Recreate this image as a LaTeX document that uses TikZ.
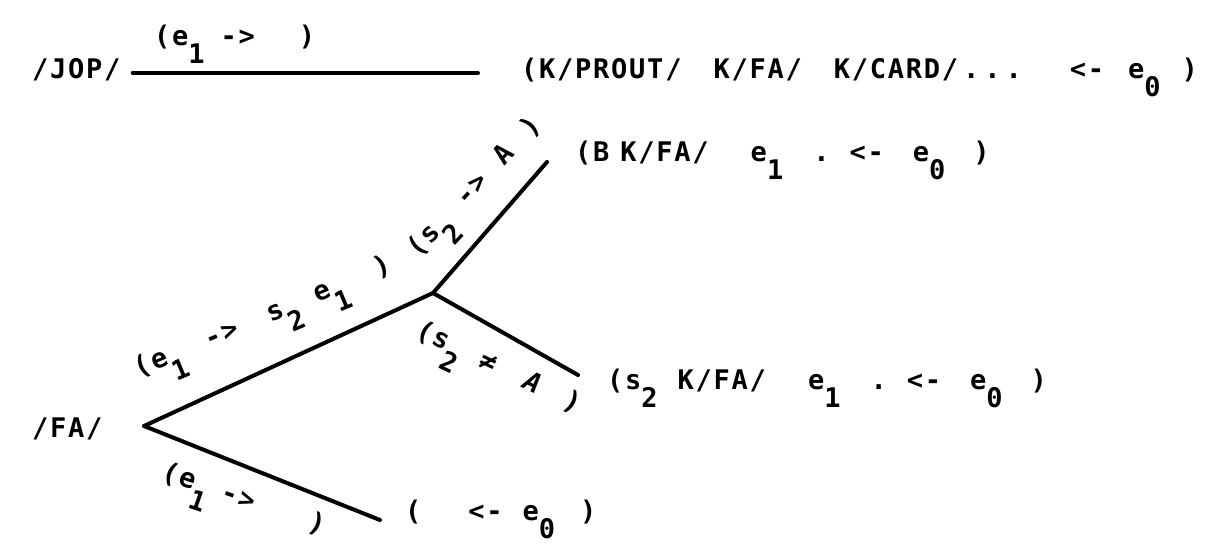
\documentclass[tikz,border=0pt]{standalone}
\usepackage{fontspec}
\newfontfamily\tw{DejaVu Sans Mono}[LetterSpace=6.5]
\newcommand{\lw}[1]{\raisebox{-18pt}{#1}}
\newcommand{\g}[1]{\hspace{#1pt}}
\begin{document}
\begin{tikzpicture}[x=1pt,y=-1pt,
  txt/.style={font=\tw\bfseries\fontsize{27}{32}\selectfont, inner sep=0pt, anchor=base west},
  edge/.style={line width=4pt, line cap=round, line join=round}]
\useasboundingbox (0,0) rectangle (1218,545);
\fill[white] (0,0) rectangle (1218,545);
% top row
\node[txt] (jop) at (32,79) {/JOP/};
\node[txt] (kprout) at (521,79) {(K/PROUT/\g{32}K/FA/\g{32}K/CARD/\g{5}.\g{5}.\g{5}.\g{48}<-\g{24}e\lw{0}\g{21})};
\node[txt] (lab1) at (154,46) {(e\lw{1}\g{16}->\g{44})};
\draw[edge] ([xshift=12pt,yshift=6pt]jop.base east) -- ([xshift=-43pt,yshift=6pt]kprout.base west);
% tree
\node[txt] (fa) at (32,437) {/FA/};
\coordinate (v) at (144,426);
\coordinate (j) at (433,293);
\coordinate (bE) at (547,162);
\coordinate (sE) at (578,375);
\coordinate (lE) at (380,520);
\draw[edge] (v) -- (j) -- (bE);
\draw[edge] (j) -- (sE);
\draw[edge] (v) -- (lE);
% results
\node[txt] (brow) at (575,162) {(B\g{11}K/FA/\g{42}e\lw{1}\g{30}.\g{20}<-\g{29}e\lw{0}\g{28})};
\node[txt] (srow) at (607,389) {(s\lw{2}\g{20}K/FA/\g{42}e\lw{1}\g{30}.\g{20}<-\g{29}e\lw{0}\g{28})};
\node[txt] (lrow) at (405,520) {(\g{47}<-\g{20}e\lw{0}\g{25})};
% edge labels
\node[txt, rotate=22.8] (lab2) at (138,378) {(e\lw{1}\g{26}->\g{33}s\lw{2}\g{18}e\lw{1}\g{33})};
\node[txt, rotate=46.8] (lab3) at (418,259) {(s\lw{2}\g{20}->\g{22}A\g{22})};
\node[txt, rotate=-25.5] (lab4) at (414,336) {(s\lw{2}\g{20}≠\g{32}{\itshape A}\g{28})};
\node[txt, rotate=-19.1] (lab5) at (160,479) {(e\lw{1}\g{12}->\g{58})};
\end{tikzpicture}
\end{document}
